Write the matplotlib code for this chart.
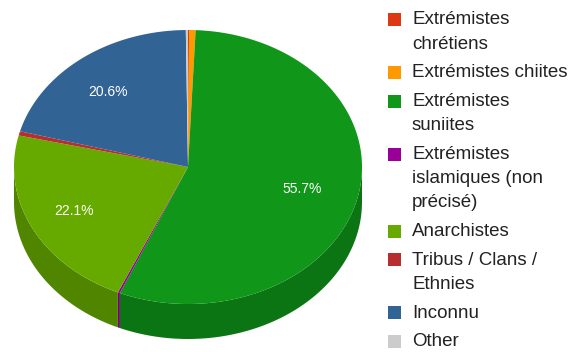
import numpy as np
import matplotlib.pyplot as plt
from matplotlib.patches import Polygon, Rectangle
from matplotlib.colors import to_rgb

labels = ['Extrémistes\nchrétiens', 'Extrémistes chiites', 'Extrémistes\nsuniites',
          'Extrémistes\nislamiques (non\nprécisé)', 'Anarchistes',
          'Tribus / Clans /\nEthnies', 'Inconnu', 'Other']
values = [0.1, 0.6, 55.7, 0.2, 22.1, 0.5, 20.6, 0.2]
colors = ['#dc3912', '#ff9900', '#109618', '#990099', '#66aa00', '#b82e2e', '#316395', '#cccccc']

plt.rcParams['font.family'] = ['Liberation Sans', 'DejaVu Sans']

W, H = 571, 352
fig = plt.figure(figsize=(W / 100, H / 100), dpi=100)
ax = fig.add_axes([0, 0, 1, 1])
ax.set_xlim(0, W)
ax.set_ylim(H, 0)
ax.axis('off')

# pie geometry in pixel coords (y down)
cx, cy, rx, ry, depth = 188, 167, 174, 137, 35

def pt(theta, r=1.0):
    return cx + rx * r * np.sin(theta), cy - ry * r * np.cos(theta)

def darker(c, f=0.78):
    return tuple(v * f for v in to_rgb(c))

total = sum(values)
bounds = np.cumsum([0] + values) / total * 2 * np.pi

# side wall (visible only on front half)
for i, c in enumerate(colors):
    a0 = max(bounds[i], np.pi / 2)
    a1 = min(bounds[i + 1], 3 * np.pi / 2)
    if a1 <= a0:
        continue
    th = np.linspace(a0, a1, 80)
    xs, ys = pt(th)
    verts = list(zip(xs, ys)) + list(zip(xs[::-1], ys[::-1] + depth))
    ax.add_patch(Polygon(verts, closed=True, facecolor=darker(c), edgecolor='none'))

# top face
for i, c in enumerate(colors):
    th = np.linspace(bounds[i], bounds[i + 1], max(3, int(values[i] * 4)))
    xs, ys = pt(th)
    verts = [(cx, cy)] + list(zip(xs, ys))
    ax.add_patch(Polygon(verts, closed=True, facecolor=c, edgecolor='none'))

# percentage labels on the big slices
for i, v in enumerate(values):
    if v < 5:
        continue
    mid = (bounds[i] + bounds[i + 1]) / 2
    x, y = pt(mid, 0.7)
    ax.text(x - 5, y + 1, f'{v:.1f}%', color='white', fontsize=10,
            ha='center', va='center')

# legend, one text line at a time
ly = 20
for lab, c in zip(labels, colors):
    ax.add_patch(Rectangle((388, ly - 7), 13, 13, facecolor=c, edgecolor='none'))
    for line in lab.split('\n'):
        ax.text(412, ly, line, fontsize=13.5, color='#222222', va='center', ha='left')
        ly += 24.2
    ly += 4.5

fig.savefig('out.png', dpi=100)
